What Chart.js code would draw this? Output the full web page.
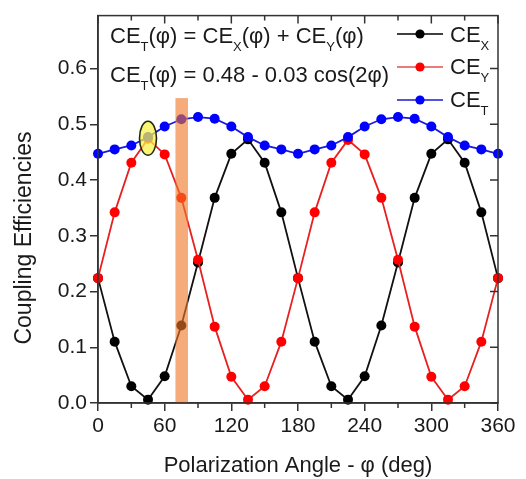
<!DOCTYPE html>
<html><head><meta charset="utf-8">
<script src="https://cdn.jsdelivr.net/npm/chart.js@4"></script>
<style>html,body{margin:0;padding:0;background:#fff}#wrap{width:526px;height:479px}</style>
</head><body><div id="wrap"><canvas id="c" width="526" height="479"></canvas></div>
<script>
// ---- data ----
const angles = [0,15,30,45,60,75,90,105,120,135,150,165,180,195,210,225,240,255,270,285,300,315,330,345,360];
const ceX = [0.224,0.110,0.030,0.006,0.048,0.139,0.252,0.368,0.447,0.473,0.431,0.342,0.224,0.110,0.030,0.006,0.048,0.139,0.252,0.368,0.447,0.473,0.431,0.342,0.224];
const ceY = [0.224,0.342,0.431,0.474,0.446,0.368,0.257,0.137,0.047,0.006,0.030,0.110,0.224,0.342,0.431,0.472,0.446,0.368,0.257,0.137,0.047,0.006,0.030,0.110,0.224];
const ceT = [0.447,0.455,0.462,0.477,0.496,0.509,0.513,0.510,0.496,0.477,0.462,0.455,0.447,0.455,0.462,0.477,0.496,0.509,0.513,0.510,0.496,0.477,0.462,0.455,0.447];
const xMinorTicks = [0,30,60,90,120,150,180,210,240,270,300,330,360];
const yTickValues = [0,0.1,0.2,0.3,0.4,0.5,0.6];
const bandRange = [69.7, 81];
const bandTop = 0.547;
const ellipseAt = [45, 0.475];
const legendItems = [['X','#000000','#000000',34,42],['Y','#ff0000','#e05050',67,74],['T','#0000ff','#1a1ad0',100,107]];
const yTitle = 'Coupling Efficiencies';
const xTitle = 'Polarization Angle - φ (deg)';

const FONT = '"Liberation Sans", Arial, sans-serif';
const TXT = '#1a1a1a';
const AX = '#333333';

function rich(ctx, parts, x, y, size) {
  let cx = x;
  for (const [t, sub] of parts) {
    if (sub) {
      ctx.font = Math.round(size*0.6) + 'px ' + FONT;
      ctx.fillText(t, cx, y + size*0.36);
    } else {
      ctx.font = size + 'px ' + FONT;
      ctx.fillText(t, cx, y);
    }
    cx += ctx.measureText(t).width;
  }
}

const decor = {
  id: 'decor',
  afterDatasetsDraw(chart) {
    const {ctx, scales:{x, y}} = chart;
    ctx.save();
    const x0 = x.getPixelForValue(bandRange[0]), x1 = x.getPixelForValue(bandRange[1]);
    const yt = y.getPixelForValue(bandTop), yb = y.getPixelForValue(0);
    ctx.fillStyle = 'rgba(240,120,40,0.62)';
    ctx.fillRect(x0, yt, x1-x0, yb-yt);
    const ex = x.getPixelForValue(ellipseAt[0]), ey = y.getPixelForValue(ellipseAt[1]);
    ctx.beginPath();
    ctx.ellipse(ex, ey, 8.5, 17, 0, 0, Math.PI*2);
    ctx.fillStyle = 'rgba(248,242,70,0.74)';
    ctx.fill();
    ctx.lineWidth = 1.6;
    ctx.strokeStyle = '#1f2a10';
    ctx.stroke();
    ctx.restore();
  },
  afterDraw(chart) {
    const {ctx, chartArea:a, scales:{x, y}} = chart;
    ctx.save();
    ctx.strokeStyle = AX;
    ctx.lineWidth = 1.5;
    ctx.strokeRect(a.left, a.top, a.right-a.left, a.bottom-a.top);
    ctx.beginPath();
    for (const v of xMinorTicks) {
      const px = x.getPixelForValue(v);
      const major = v % 60 === 0;
      if (!major) { ctx.moveTo(px, a.bottom); ctx.lineTo(px, a.bottom+5); }
      ctx.moveTo(px, a.top); ctx.lineTo(px, a.top + (major ? 8 : 5));
    }
    for (const v of yTickValues) {
      const py = y.getPixelForValue(v);
      ctx.moveTo(a.right, py); ctx.lineTo(a.right-8, py);
    }
    ctx.stroke();
    ctx.fillStyle = TXT;
    ctx.textBaseline = 'alphabetic';
    ctx.textAlign = 'left';
    rich(ctx, [['CE',0],['T',1],['(φ) = CE',0],['X',1],['(φ) + CE',0],['Y',1],['(φ)',0]], 110, 43, 22);
    rich(ctx, [['CE',0],['T',1],['(φ) = 0.48 - 0.03 cos(2φ)',0]], 110, 82, 22);
    for (const [s, col, lcol, ly, tb] of legendItems) {
      ctx.strokeStyle = lcol; ctx.lineWidth = 1.6;
      ctx.beginPath(); ctx.moveTo(397, ly); ctx.lineTo(443, ly); ctx.stroke();
      ctx.fillStyle = col;
      ctx.beginPath(); ctx.arc(420, ly, 4.6, 0, Math.PI*2); ctx.fill();
      ctx.fillStyle = TXT;
      rich(ctx, [['CE',0],[s,1]], 450, tb, 22);
    }
    // y-axis title (rotated)
    ctx.save();
    ctx.translate(25, 238);
    ctx.rotate(-Math.PI/2);
    ctx.textAlign = 'center';
    ctx.textBaseline = 'middle';
    ctx.font = '23px ' + FONT;
    ctx.fillText(yTitle, 0, 0);
    ctx.restore();
    ctx.restore();
  }
};

function ds(label, data, color, lineColor, order) {
  return {label, data: angles.map((a,i)=>({x:a, y:data[i]})), borderColor: lineColor, backgroundColor: color,
    pointBackgroundColor: color, pointBorderColor: color, pointRadius: 5, pointBorderWidth: 0,
    borderWidth: 1.8, tension: 0, order, clip: false};
}

new Chart(document.getElementById('c'), {
  type: 'line',
  data: { datasets: [
    ds('CE_T', ceT, '#0000ff', '#1a1ae0', 0),
    ds('CE_Y', ceY, '#ff0000', '#e82020', 1),
    ds('CE_X', ceX, '#000000', '#111111', 2)
  ]},
  options: {
    responsive: false, animation: false, devicePixelRatio: 1,
    layout: { padding: { left: 0, right: 28, top: 10, bottom: 0 } },
    plugins: { legend: { display: false }, tooltip: { enabled: false } },
    scales: {
      x: { type: 'linear', min: 0, max: 360,
        afterFit(s) { s.height = 76; },
        ticks: { stepSize: 60, color: TXT, font: { family: FONT, size: 21 }, padding: 3, maxRotation: 0 },
        grid: { drawOnChartArea: false, tickLength: 8, color: AX, lineWidth: 1.5 },
        border: { color: AX, width: 1.5 },
        title: { display: true, text: xTitle, color: TXT, font: { family: FONT, size: 22 }, padding: { top: 0, bottom: 0 } }
      },
      y: { min: 0, max: 0.695,
        afterFit(s) { s.width = 98; },
        ticks: { stepSize: 0.1, includeBounds: false, color: TXT, font: { family: FONT, size: 21 }, padding: 3,
          callback: v => Number(v).toFixed(1) },
        grid: { drawOnChartArea: false, tickLength: 8, color: AX, lineWidth: 1.5 },
        border: { color: AX, width: 1.5 },
        title: { display: false }
      }
    }
  },
  plugins: [decor]
});
</script></body></html>
